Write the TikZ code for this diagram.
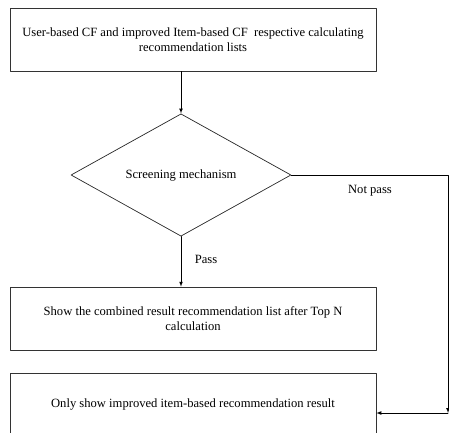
\documentclass[tikz,border=0pt]{standalone}
\usepackage{fontspec}
\setmainfont{Liberation Serif}
\usetikzlibrary{arrows,shapes.geometric}

\begin{document}
\begin{tikzpicture}[line cap=round,line join=round,>=latex,x=1pt,y=-1pt,
  box/.style={draw=black!80,line width=0.7pt,minimum width=366pt,minimum height=63pt,inner sep=0pt,align=center,font=\fontsize{12.6}{15.5}\selectfont},
  check/.style={draw=black!85,line width=0.7pt,diamond,minimum width=220pt,minimum height=122pt,inner sep=0pt,font=\fontsize{12.6}{15.5}\selectfont},
  lab/.style={font=\fontsize{12.6}{15.5}\selectfont}]
\clip (0,0) rectangle (449,432);
\node[box] (calc) at (193,39.5) {User-based CF and improved Item-based CF\ \ respective calculating\\recommendation lists};
\node[check] (screen) at (181,175) {Screening mechanism};
\node[box] (topn) at (193,318.5) {Show the combined result recommendation list after Top N\\calculation};
\node[box] (only) at (193,404.5) {Only show improved item-based recommendation result};
\coordinate (turn) at (448,175);
\coordinate (corner) at (448,413);
\draw [line width=0.7pt,->] (calc.south -| screen.north) -- (screen.north);
\draw [line width=0.7pt,->] (screen.south) -- (screen.south |- topn.north);
\draw [line width=0.7pt,->] (screen.east) -- (turn) -- (corner);
\draw [line width=0.7pt,->] (corner) -- (only.east |- corner);
\node[lab] (pass) at (206,259) {Pass};
\node[lab] (notpass) at (370,191) {Not pass};
\end{tikzpicture}
\end{document}
